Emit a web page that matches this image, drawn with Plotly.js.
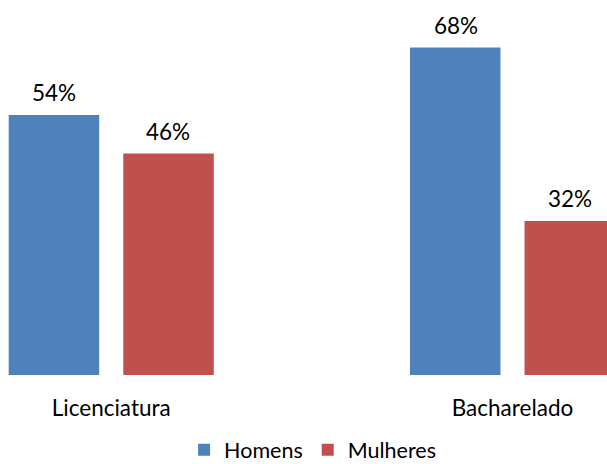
<!DOCTYPE html>
<html>
<head>
<meta charset="utf-8">
<script src="https://cdn.plot.ly/plotly-3.0.1.min.js"></script>
<style>html,body{margin:0;padding:0;background:#fff;}#chart{width:607px;height:464px;}</style>
</head>
<body>
<div id="chart"></div>
<script>
const categories = ['Licenciatura', 'Bacharelado'];
const seriesNames = ['Homens', 'Mulheres'];
const homens = [54, 68];
const mulheres = [46, 32];
const seriesValues = [homens, mulheres];
const colors = ['#4F81BD', '#C0504D'];

const FONT = 'Lato, "Open Sans", sans-serif';
const FS = 22.5;
const pxPerCat = 401.25;
const barWidth = 90.5 / pxPerCat;
const offsets = [-102.55 / pxPerCat, 12.05 / pxPerCat];
const xshifts = [-57, 57];

const traces = seriesValues.map((vals, i) => ({
  type: 'bar',
  name: seriesNames[i],
  x: categories,
  y: vals,
  width: barWidth,
  offset: offsets[i],
  marker: {color: colors[i]},
  hoverinfo: 'skip'
}));

const annotations = [];
seriesValues.forEach((vals, i) => {
  vals.forEach((v, j) => {
    annotations.push({
      x: categories[j], y: v, xref: 'x', yref: 'y',
      text: v + '%', showarrow: false,
      yanchor: 'bottom', xshift: xshifts[i], yshift: 7,
      font: {family: FONT, size: FS, color: '#000'}
    });
  });
});

const layout = {
  width: 607, height: 464,
  margin: {l: 0, r: 0, t: 0, b: 89, pad: 0, autoexpand: false},
  paper_bgcolor: '#fff', plot_bgcolor: '#fff',
  barmode: 'overlay',
  showlegend: true,
  xaxis: {
    type: 'category',
    automargin: false,
    range: [-111.25 / pxPerCat, (607 - 111.25) / pxPerCat],
    showgrid: false, zeroline: false, showline: false, ticks: '',
    tickfont: {family: FONT, size: FS, color: '#000'},
    ticklabelstandoff: 17
  },
  yaxis: {
    range: [0, 375 / 4.815],
    visible: false, showgrid: false, zeroline: false
  },
  legend: {
    orientation: 'h', x: 0.515, xanchor: 'center',
    yref: 'paper', y: -0.145, yanchor: 'top',
    font: {family: FONT, size: 21.5, color: '#000'},
    traceorder: 'normal'
  },
  annotations: annotations
};

Plotly.newPlot('chart', traces, layout, {displayModeBar: false, staticPlot: true});
</script>
</body>
</html>
